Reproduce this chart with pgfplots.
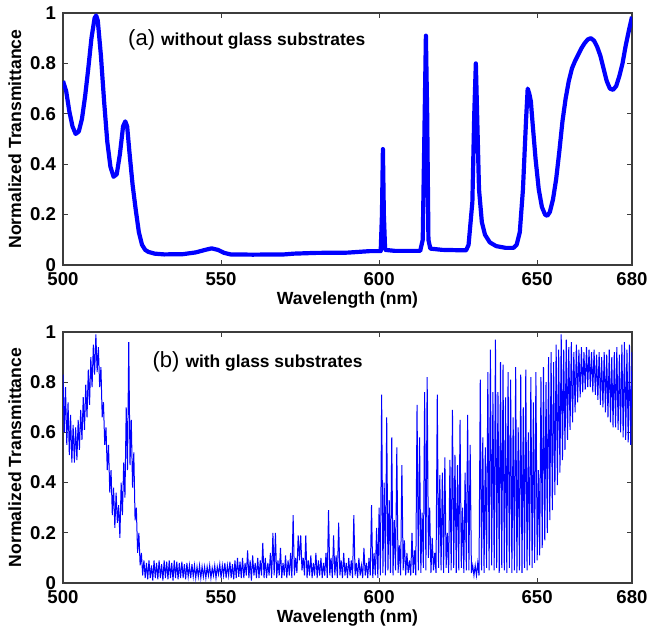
\documentclass[border=0pt]{standalone}
\usepackage{fontspec}
\setmainfont{Liberation Sans}
\usepackage{pgfplots}
\pgfplotsset{compat=1.18}
\definecolor{frame}{RGB}{60,60,60}
\definecolor{lineblue}{RGB}{0,0,255}
\pgfplotsset{
 myaxis/.style={
  scale only axis, width=284.5pt, height=126pt,
  xmin=500, xmax=680, ymin=0, ymax=1,
  xtick={500,550,600,650,680},
  ytick={0,0.2,0.4,0.6,0.8,1},
  axis line style={frame, line width=0.6pt},
  every tick/.style={frame, line width=0.5pt},
  major tick length=2.5pt,
  tick label style={font=\fontsize{9.3}{10}\selectfont\bfseries},
  /pgf/number format/assume math mode=true,
  label style={font=\fontsize{8.8}{10}\selectfont\bfseries},
  xlabel style={yshift=3.5pt},
  ylabel style={yshift=-2.5pt},
  xlabel={Wavelength (nm)},
  ylabel={Normalized Transmittance},
 }
}
\begin{document}
\begin{tikzpicture}
\path[use as bounding box] (0,0) rectangle (323.5pt,315pt);
\begin{axis}[myaxis, anchor=south west, at={(31.5pt,182.5pt)}]
\addplot[lineblue, line width=2.1pt, line join=round] coordinates {
(500,0.73) (501,0.69) (502,0.61) (503,0.55) (504,0.52) (505,0.53) (506,0.58) (507,0.67) (508,0.78) (509,0.90) (510,0.98) (510.5,0.99) (511,0.97) (512,0.83) (513,0.65) (514,0.49) (515,0.39) (516,0.35) (517,0.36) (518,0.44) (519,0.55) (519.7,0.57) (520.3,0.55) (521,0.45) (522,0.32) (523,0.22) (524,0.13) (525,0.08) (526,0.06) (527,0.052) (529,0.045) (532,0.042) (538,0.043) (542,0.05) (545,0.06) (547,0.066) (549,0.06) (551,0.048) (553,0.042) (560,0.041) (570,0.042) (573,0.045) (580,0.048) (590,0.049) (597,0.055) (600.5,0.055) (600.9,0.2) (601.2,0.46) (601.5,0.2) (601.9,0.06) (605,0.056) (613,0.056) (613.8,0.1) (614.3,0.5) (614.8,0.91) (615.2,0.6) (615.6,0.1) (616.2,0.065) (620,0.06) (627.5,0.058) (628.3,0.08) (629.5,0.25) (630.1,0.6) (630.6,0.80) (631.1,0.55) (631.6,0.3) (632.5,0.17) (633.5,0.12) (635,0.09) (637,0.075) (640,0.068) (642.5,0.068) (643.5,0.08) (644.5,0.13) (645.5,0.3) (646.5,0.58) (647,0.70) (647.5,0.68) (648,0.65) (648.5,0.57) (649.5,0.42) (650.5,0.30) (651.5,0.23) (652.5,0.20) (653.2,0.195) (654,0.21) (655,0.26) (656,0.34) (657,0.45) (658,0.57) (659,0.66) (660,0.73) (661,0.78) (662,0.81) (663,0.835) (664,0.86) (665,0.88) (666,0.895) (667,0.90) (668,0.89) (669,0.865) (670,0.83) (671,0.78) (672,0.73) (673,0.70) (674,0.695) (675,0.71) (676,0.75) (677,0.80) (678,0.87) (679,0.93) (680,0.985)
};
\node[anchor=west, inner sep=0pt] at (axis cs:520.5,0.895) {\fontsize{11}{12}\selectfont (a) \fontsize{8.7}{10}\selectfont\bfseries without glass substrates};
\end{axis}
\begin{axis}[myaxis, height=125.5pt, anchor=south west, at={(31.5pt,23.5pt)}]
\addplot[lineblue, line width=0.5pt] coordinates {
(500.0,.83) (500.4,.60) (500.8,.78) (501.2,.55) (501.6,.72) (502.0,.51) (502.4,.67) (502.8,.48) (503.2,.63) (503.6,.48)
(504.0,.62) (504.4,.49) (504.8,.65) (505.2,.53) (505.6,.69) (506.0,.57) (506.4,.74) (506.8,.61) (507.2,.79) (507.6,.66)
(508.0,.85) (508.4,.71) (508.8,.90) (509.2,.78) (509.6,.95) (510.0,.83) (510.4,.99) (510.8,.84) (511.2,.94) (511.6,.78)
(512.0,.86) (512.4,.66) (512.8,.72) (513.2,.55) (513.6,.62) (514.0,.45) (514.4,.55) (514.8,.36) (515.2,.45) (515.6,.27)
(516.0,.38) (516.4,.22) (516.8,.36) (517.2,.24) (517.6,.31) (518.0,.18) (518.4,.40) (518.8,.27) (519.2,.48) (519.6,.34)
(520.0,.70) (520.4,.45) (520.8,.96) (521.2,.47) (521.6,.65) (522.0,.38) (522.4,.52) (522.8,.25) (523.2,.30) (523.6,.12)
(524.0,.20) (524.4,.07) (524.8,.12) (525.2,.03) (525.6,.09) (526.0,.02)
(526.4,.08) (526.8,.015) (527.2,.09) (527.6,.02) (528.0,.07) (528.4,.01) (528.8,.09) (529.2,.02) (529.6,.08) (530.0,.015)
(530.4,.09) (530.8,.02) (531.2,.075) (531.6,.01) (532.0,.09) (532.4,.02) (532.8,.085) (533.2,.015) (533.6,.09) (534.0,.02)
(534.4,.08) (534.8,.01) (535.2,.09) (535.6,.02) (536.0,.085) (536.4,.015) (536.8,.08) (537.2,.02) (537.6,.085) (538.0,.02)
(538.4,.075) (538.8,.015) (539.2,.08) (539.6,.025) (540.0,.07) (540.4,.02) (540.8,.075) (541.2,.025) (541.6,.07) (542.0,.02)
(542.4,.065) (542.8,.025) (543.2,.07) (543.6,.02) (544.0,.065) (544.4,.025) (544.8,.065) (545.2,.02)
(545.6,.065) (546.0,.03) (546.4,.07) (546.8,.02) (547.2,.06) (547.6,.03) (548.0,.07) (548.4,.02) (548.8,.065) (549.2,.035)
(549.6,.075) (550.0,.02) (550.4,.07) (550.8,.03) (551.2,.08) (551.6,.02) (552.0,.07) (552.4,.03) (552.8,.085) (553.2,.02)
(553.6,.075) (554.0,.015) (554.4,.09) (554.8,.02) (555.2,.10) (555.6,.025) (556.0,.085) (556.4,.02)
(556.8,.10) (557.2,.02) (557.6,.08) (558.0,.03) (558.4,.13) (558.8,.02) (559.2,.09) (559.6,.01) (560.0,.11) (560.4,.03)
(560.8,.08) (561.2,.02) (561.6,.10) (562.0,.02) (562.4,.09) (562.8,.03) (563.2,.16) (563.6,.02) (564.0,.10) (564.4,.02)
(564.8,.08) (565.2,.03) (565.6,.12) (566.0,.02) (566.4,.20) (566.8,.03) (567.2,.20) (567.6,.02) (568.0,.09) (568.4,.03)
(568.8,.14) (569.2,.02) (569.6,.08) (570.0,.03) (570.4,.11) (570.8,.02) (571.2,.09) (571.6,.03) (572.0,.12) (572.4,.02)
(572.8,.27) (573.2,.03) (573.6,.10) (574.0,.04) (574.4,.19) (574.8,.09) (575.2,.19) (575.6,.05) (576.0,.10) (576.4,.03)
(576.8,.19) (577.2,.02) (577.6,.09) (578.0,.03) (578.4,.11) (578.8,.02) (579.2,.08) (579.6,.03) (580.0,.12) (580.4,.02)
(580.8,.09) (581.2,.03) (581.6,.10) (582.0,.02) (582.4,.08) (582.8,.03) (583.2,.12) (583.6,.02) (584.0,.29) (584.4,.03)
(584.8,.10) (585.2,.02) (585.6,.19) (586.0,.03) (586.4,.11) (586.8,.02) (587.2,.24) (587.6,.03) (588.0,.09) (588.4,.02)
(588.8,.12) (589.2,.03) (589.6,.08) (590.0,.02) (590.4,.10) (590.8,.03) (591.2,.09) (591.6,.02) (592.0,.27) (592.4,.03)
(592.8,.08) (593.2,.02) (593.6,.10) (594.0,.03) (594.4,.07) (594.8,.02) (595.2,.14) (595.6,.03) (596.0,.08) (596.4,.02)
(596.8,.10) (597.2,.03) (597.6,.31) (598.0,.02) (598.4,.12) (598.8,.03) (599.2,.22) (599.6,.02) (600.0,.30) (600.4,.03)
(600.8,.75) (601.2,.04) (601.6,.40) (602.0,.03) (602.4,.66) (602.8,.05) (603.2,.33) (603.6,.04) (604.0,.58) (604.4,.03)
(604.8,.25) (605.2,.05) (605.6,.54) (606.0,.04) (606.4,.15) (606.8,.03) (607.2,.47) (607.6,.05) (608.0,.17) (608.4,.03)
(608.8,.12) (609.2,.04) (609.6,.09) (610.0,.03) (610.4,.20) (610.8,.04) (611.2,.13) (611.6,.03) (612.0,.71) (612.4,.05)
(612.8,.58) (613.2,.04) (613.6,.28) (614.0,.06) (614.4,.76) (614.8,.05) (615.2,.82) (615.6,.10) (616.0,.30) (616.4,.04)
(616.8,.18) (617.2,.05) (617.6,.12) (618.0,.04) (618.4,.75) (618.8,.06) (619.2,.43) (619.6,.05) (620.0,.44) (620.4,.04)
(620.8,.50) (621.2,.06) (621.6,.20) (622.0,.04) (622.4,.49) (622.8,.05) (623.2,.69) (623.6,.06) (624.0,.51) (624.4,.04)
(624.8,.47) (625.2,.05) (625.6,.65) (626.0,.06) (626.4,.30) (626.8,.04) (627.2,.44) (627.6,.05) (628.0,.67) (628.4,.05)
(628.8,.55) (629.2,.04) (629.6,.07) (630.0,.03) (630.4,.07) (630.8,.03) (631.2,.08) (631.6,.03)
(632.0,.81) (632.4,.05) (632.8,.58) (633.2,.04) (633.6,.54) (634.0,.06) (634.4,.84) (634.8,.05) (635.2,.93) (635.6,.07)
(636.0,.76) (636.4,.05) (636.8,.97) (637.2,.06) (637.6,.76) (638.0,.04) (638.4,.88) (638.8,.06) (639.2,.87) (639.6,.05)
(640.0,.74) (640.4,.04) (640.8,.84) (641.2,.06) (641.6,.81) (642.0,.04) (642.4,.66) (642.8,.05) (643.2,.86) (643.6,.04)
(644.0,.62) (644.4,.05) (644.8,.83) (645.2,.04) (645.6,.70) (646.0,.06) (646.4,.85) (646.8,.05) (647.2,.60) (647.6,.07)
(648.0,.82) (648.4,.06) (648.8,.72) (649.2,.08) (649.6,.84) (650.0,.09) (650.4,.45) (650.8,.11) (651.2,.82) (651.6,.14)
(652.0,.86) (652.4,.17) (652.8,.80) (653.2,.20) (653.6,.90) (654.0,.25) (654.4,.92) (654.8,.29) (655.2,.88) (655.6,.35)
(656.0,.95) (656.4,.39) (656.8,.93) (657.2,.44) (657.6,.99) (658.0,.49) (658.4,.93) (658.8,.53) (659.2,.97) (659.6,.57)
(660.0,.94) (660.4,.61) (660.8,.96) (661.2,.64) (661.6,.92) (662.0,.68) (662.4,.95) (662.8,.72) (663.2,.93) (663.6,.74)
(664.0,.94) (664.4,.76) (664.8,.92) (665.2,.77) (665.6,.94) (666.0,.78) (666.4,.93) (666.8,.78) (667.2,.92) (667.6,.76)
(668.0,.93) (668.4,.75) (668.8,.91) (669.2,.73) (669.6,.92) (670.0,.71) (670.4,.90) (670.8,.70) (671.2,.92) (671.6,.68)
(672.0,.91) (672.4,.66) (672.8,.93) (673.2,.64) (673.6,.90) (674.0,.62) (674.4,.92) (674.8,.62) (675.2,.94) (675.6,.61)
(676.0,.91) (676.4,.60) (676.8,.95) (677.2,.58) (677.6,.96) (678.0,.57) (678.4,.93) (678.8,.56) (679.2,.95) (679.6,.55)
(680.0,.92)
};
\node[anchor=west, inner sep=0pt] at (axis cs:528.2,0.88) {\fontsize{11}{12}\selectfont (b) \fontsize{8.7}{10}\selectfont\bfseries with glass substrates};
\end{axis}
\end{tikzpicture}
\end{document}
